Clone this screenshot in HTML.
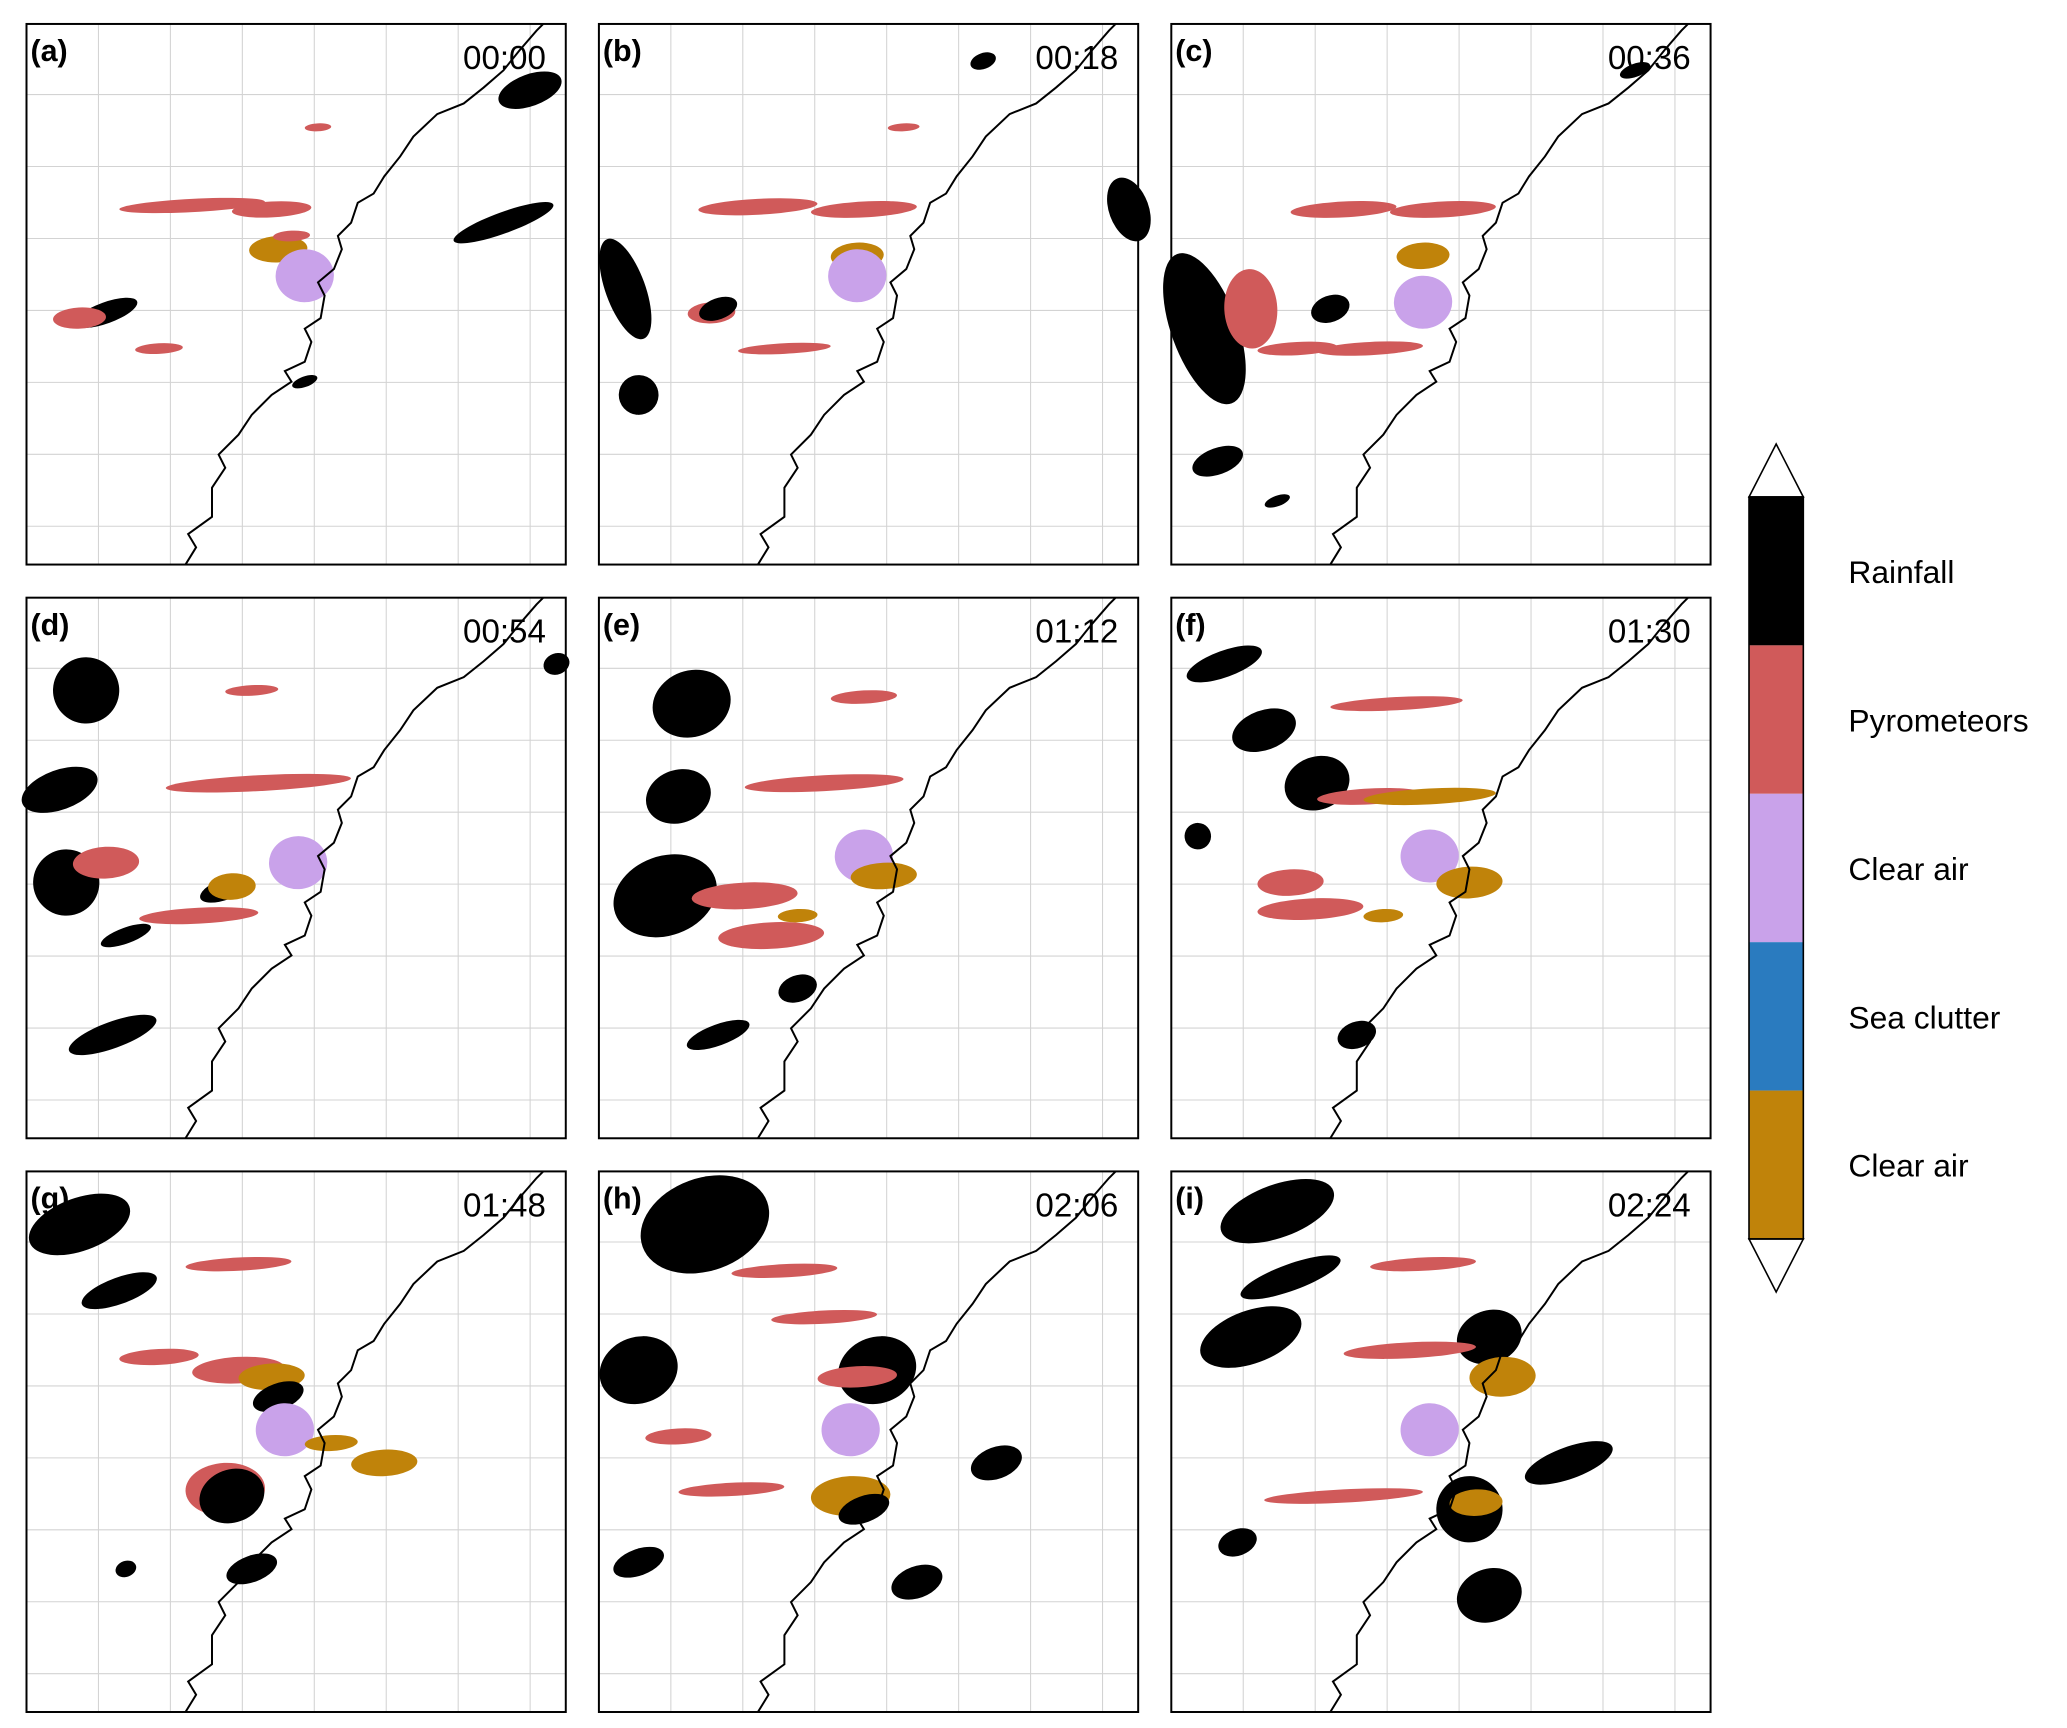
<!DOCTYPE html>
<html><head><meta charset="utf-8">
<style>
html,body{margin:0;padding:0;background:#fff;}
svg{display:block;font-family:"Liberation Sans",sans-serif;}
</style></head>
<body>
<svg id="fig" width="2067" height="1728" viewBox="0 0 1560 1304" xmlns="http://www.w3.org/2000/svg"></svg>
<script>
const panelLabels = ["(a)","(b)","(c)","(d)","(e)","(f)","(g)","(h)","(i)"];
const panelTimes = ["00:00","00:18","00:36","00:54","01:12","01:30","01:48","02:06","02:24"];
const classNames = ["Rainfall","Pyrometeors","Clear air","Sea clutter","Clear air"];
const classColors = ["#000000","#d05a5a","#c9a2ea","#2a7bbf","#c0830a"];
// blobs per panel: [cx, cy, rx, ry, classIndex] in panel units (0-407)
const blobsA = [[60,218,25,8,0],[40,222,20,8,1],[125,137,55,5,1],[185,140,30,6,1],[190,170,22,10,4],[210,190,22,20,2],[100,245,18,4,1],[210,270,10,4,0],[380,50,25,12,0],[360,150,40,8,0],[220,78,10,3,1],[200,160,14,4,1]];
const blobsB = [[20,200,15,40,0],[85,218,18,8,1],[90,215,15,8,0],[120,138,45,6,1],[200,140,40,6,1],[195,175,20,10,4],[195,190,22,20,2],[140,245,35,4,1],[30,280,15,15,0],[400,140,15,25,0],[290,28,10,6,0],[230,78,12,3,1]];
const blobsC = [[25,230,25,60,0],[35,330,20,10,0],[60,215,20,30,1],[130,140,40,6,1],[205,140,40,6,1],[120,215,15,10,0],[190,210,22,20,2],[190,175,20,10,4],[95,245,30,5,1],[150,245,40,5,1],[350,35,12,5,0],[80,360,10,4,0]];
const blobsD = [[45,70,25,25,0],[25,145,30,15,0],[30,215,25,25,0],[75,255,20,6,0],[65,330,35,10,0],[175,140,70,6,1],[60,200,25,12,1],[150,220,20,8,0],[155,218,18,10,4],[205,200,22,20,2],[130,240,45,6,1],[170,70,20,4,1],[400,50,10,8,0]];
const blobsE = [[70,80,30,25,0],[60,150,25,20,0],[50,225,40,30,0],[130,255,40,10,1],[110,225,40,10,1],[170,140,60,6,1],[200,195,22,20,2],[215,210,25,10,4],[150,240,15,5,4],[90,330,25,8,0],[150,295,15,10,0],[200,75,25,5,1]];
const blobsF = [[40,50,30,10,0],[70,100,25,15,0],[110,140,25,20,0],[150,150,40,6,1],[195,150,50,6,4],[195,195,22,20,2],[225,215,25,12,4],[105,235,40,8,1],[90,215,25,10,1],[160,240,15,5,4],[140,330,15,10,0],[20,180,10,10,0],[170,80,50,5,1]];
const blobsG = [[40,40,40,20,0],[70,90,30,10,0],[160,150,35,10,1],[185,155,25,10,4],[190,170,20,10,0],[195,195,22,20,2],[150,240,30,20,1],[155,245,25,20,0],[270,220,25,10,4],[230,205,20,6,4],[170,300,20,10,0],[160,70,40,5,1],[100,140,30,6,1],[75,300,8,6,0]];
const blobsH = [[80,40,50,35,0],[30,150,30,25,0],[210,150,30,25,0],[195,155,30,8,1],[170,110,40,5,1],[190,195,22,20,2],[190,245,30,15,4],[200,255,20,10,0],[300,220,20,12,0],[60,200,25,6,1],[100,240,40,5,1],[140,75,40,5,1],[30,295,20,10,0],[240,310,20,12,0]];
const blobsI = [[80,30,45,20,0],[90,80,40,10,0],[60,125,40,20,0],[240,125,25,20,0],[250,155,25,15,4],[195,195,22,20,2],[225,255,25,25,0],[230,250,20,10,4],[300,220,35,12,0],[240,320,25,20,0],[180,135,50,6,1],[130,245,60,5,1],[190,70,40,5,1],[50,280,15,10,0]];
const allBlobs = [blobsA,blobsB,blobsC,blobsD,blobsE,blobsF,blobsG,blobsH,blobsI];

const NS="http://www.w3.org/2000/svg";
const fig=document.getElementById("fig");
function mk(tag,attrs,parent){const e=document.createElementNS(NS,tag);for(const k in attrs)e.setAttribute(k,attrs[k]);(parent||fig).appendChild(e);return e;}
const colX=[20,452,884], rowY=[18,451,884], PW=407, PH=408;
const coast="M120,408 L128,395 L122,385 L140,372 L140,350 L150,335 L145,325 L160,310 L170,295 L185,280 L200,270 L195,262 L210,255 L215,240 L210,230 L222,222 L225,205 L220,195 L232,185 L238,170 L235,160 L245,150 L250,135 L262,128 L270,115 L282,100 L292,85 L310,68 L330,60 L345,48 L360,35 L372,20 L385,5 L390,0";
for(let p=0;p<9;p++){
  const x0=colX[p%3], y0=rowY[Math.floor(p/3)];
  const g=mk("g",{transform:`translate(${x0},${y0})`});
  
  
  for(let i=1;i<8;i++){
    const gx=i*54.3;
    const l=mk("line",{x1:gx,y1:0,x2:gx,y2:PH,stroke:"#d3d3d3","stroke-width":0.8},g);
    
    
    const gy=i*54.3-1;
    const h=mk("line",{x1:0,y1:gy,x2:PW,y2:gy,stroke:"#d3d3d3","stroke-width":0.8},g);
    
    
  }
  allBlobs[p].forEach(b=>{
    const e=mk("ellipse",{cx:b[0],cy:b[1],rx:b[2],ry:b[3],fill:classColors[b[4]],transform:`rotate(${b[4]===0?-20:-3} ${b[0]} ${b[1]})`},g);
    
    
  });
  const c=mk("path",{d:coast,fill:"none",stroke:"#000","stroke-width":1.5},g);
  
  
  const r=mk("rect",{x:0,y:0,width:PW,height:PH,fill:"none",stroke:"#000","stroke-width":1.5},g);
  
  
  const t1=mk("text",{x:3,y:28,"font-size":23,"font-weight":"bold"},g);
  t1.textContent=panelLabels[p];
  
  
  const t2=mk("text",{x:PW-15,y:34,"font-size":25,"text-anchor":"end"},g);
  t2.textContent=panelTimes[p];
  
  
}
// colorbar
const cbX=1320, cbW=41, cbTop=375, seg=112;
const tri1=mk("path",{d:`M${cbX},${cbTop} L${cbX+cbW/2},335 L${cbX+cbW},${cbTop} Z`,fill:"#fff",stroke:"#000","stroke-width":1.2});


classNames.forEach((n,i)=>{
  const r=mk("rect",{x:cbX,y:cbTop+i*seg,width:cbW,height:seg,fill:classColors[i]});
  
  
  const t=mk("text",{x:1395,y:cbTop+i*seg+seg/2+9,"font-size":24});
  t.textContent=n;
  
  
});
const cbBot=cbTop+5*seg;
const tri2=mk("path",{d:`M${cbX},${cbBot} L${cbX+cbW/2},${cbBot+40} L${cbX+cbW},${cbBot} Z`,fill:"#fff",stroke:"#000","stroke-width":1.2});


const fr=mk("rect",{x:cbX,y:cbTop,width:cbW,height:5*seg,fill:"none",stroke:"#000","stroke-width":1.2});


</script>
</body></html>
